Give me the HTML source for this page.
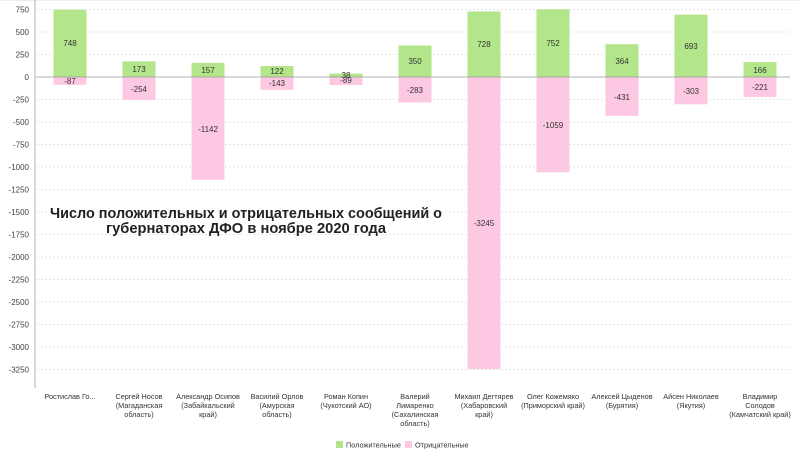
<!DOCTYPE html>
<html><head><meta charset="utf-8"><style>
html,body{margin:0;padding:0;background:#fff;}
svg{display:block;font-family:"Liberation Sans",sans-serif;}
</style></head><body>
<svg width="800" height="450" viewBox="0 0 800 450" xmlns="http://www.w3.org/2000/svg">
<rect width="800" height="450" fill="#fff"/>
<line x1="0" y1="0.5" x2="800" y2="0.5" stroke="#eee"/>
<g stroke="#ddd" stroke-dasharray="2,2" stroke-width="0.8">
<line x1="37" x2="790" y1="9.5" y2="9.5"/><line x1="37" x2="790" y1="32" y2="32"/><line x1="37" x2="790" y1="54.5" y2="54.5"/>
<line x1="37" x2="790" y1="99.5" y2="99.5"/><line x1="37" x2="790" y1="122" y2="122"/><line x1="37" x2="790" y1="144.5" y2="144.5"/>
<line x1="37" x2="790" y1="167" y2="167"/><line x1="37" x2="790" y1="189.5" y2="189.5"/><line x1="37" x2="790" y1="212" y2="212"/>
<line x1="37" x2="790" y1="234.5" y2="234.5"/><line x1="37" x2="790" y1="257" y2="257"/><line x1="37" x2="790" y1="279.5" y2="279.5"/>
<line x1="37" x2="790" y1="302" y2="302"/><line x1="37" x2="790" y1="324.5" y2="324.5"/><line x1="37" x2="790" y1="347" y2="347"/><line x1="37" x2="790" y1="369.5" y2="369.5"/>
</g>
<g font-size="8" fill="#444" text-anchor="end">
<text x="29" y="12.5">750</text><text x="29" y="35">500</text><text x="29" y="57.5">250</text><text x="29" y="80">0</text>
<text x="29" y="102.5">-250</text><text x="29" y="125">-500</text><text x="29" y="147.5">-750</text><text x="29" y="170">-1000</text>
<text x="29" y="192.5">-1250</text><text x="29" y="215">-1500</text><text x="29" y="237.5">-1750</text><text x="29" y="260">-2000</text>
<text x="29" y="282.5">-2250</text><text x="29" y="305">-2500</text><text x="29" y="327.5">-2750</text><text x="29" y="350">-3000</text><text x="29" y="372.5">-3250</text>
</g>
<line x1="35" y1="0" x2="35" y2="388" stroke="#ccc" stroke-width="1.5"/>
<g>
<!-- bars: center 70+69i, width 33, scale 0.09 -->
<rect x="53.5" y="9.7" width="33" height="67.3" fill="#b3e58a"/><rect x="53.5" y="77" width="33" height="7.8" fill="#fdc8e2"/>
<rect x="122.5" y="61.4" width="33" height="15.6" fill="#b3e58a"/><rect x="122.5" y="77" width="33" height="22.9" fill="#fdc8e2"/>
<rect x="191.5" y="62.9" width="33" height="14.1" fill="#b3e58a"/><rect x="191.5" y="77" width="33" height="102.8" fill="#fdc8e2"/>
<rect x="260.5" y="66" width="33" height="11" fill="#b3e58a"/><rect x="260.5" y="77" width="33" height="12.9" fill="#fdc8e2"/>
<rect x="329.5" y="73.6" width="33" height="3.4" fill="#b3e58a"/><rect x="329.5" y="77" width="33" height="8" fill="#fdc8e2"/>
<rect x="398.5" y="45.5" width="33" height="31.5" fill="#b3e58a"/><rect x="398.5" y="77" width="33" height="25.5" fill="#fdc8e2"/>
<rect x="467.5" y="11.5" width="33" height="65.5" fill="#b3e58a"/><rect x="467.5" y="77" width="33" height="292" fill="#fdc8e2"/>
<rect x="536.5" y="9.3" width="33" height="67.7" fill="#b3e58a"/><rect x="536.5" y="77" width="33" height="95.3" fill="#fdc8e2"/>
<rect x="605.5" y="44.2" width="33" height="32.8" fill="#b3e58a"/><rect x="605.5" y="77" width="33" height="38.8" fill="#fdc8e2"/>
<rect x="674.5" y="14.6" width="33" height="62.4" fill="#b3e58a"/><rect x="674.5" y="77" width="33" height="27.3" fill="#fdc8e2"/>
<rect x="743.5" y="62.1" width="33" height="14.9" fill="#b3e58a"/><rect x="743.5" y="77" width="33" height="19.9" fill="#fdc8e2"/>
</g>
<line x1="36" y1="77" x2="790" y2="77" stroke="#999" stroke-width="0.8"/>
<g font-size="8" fill="#333" text-anchor="middle">
<text x="70" y="46">748</text><text x="70" y="84">-87</text>
<text x="139" y="72">173</text><text x="139" y="92">-254</text>
<text x="208" y="73">157</text><text x="208" y="132">-1142</text>
<text x="277" y="74">122</text><text x="277" y="86">-143</text>
<text x="346" y="78">38</text><text x="346" y="83">-89</text>
<text x="415" y="64">350</text><text x="415" y="93">-283</text>
<text x="484" y="47">728</text><text x="484" y="226">-3245</text>
<text x="553" y="46">752</text><text x="553" y="128">-1059</text>
<text x="622" y="64">364</text><text x="622" y="100">-431</text>
<text x="691" y="49">693</text><text x="691" y="94">-303</text>
<text x="760" y="73">166</text><text x="760" y="90">-221</text>
</g>
<g font-size="7.3" fill="#333" text-anchor="middle">
<text x="70" y="399">Ростислав Го...</text>
<text x="139" y="399">Сергей Носов</text><text x="139" y="408">(Магаданская</text><text x="139" y="417">область)</text>
<text x="208" y="399">Александр Осипов</text><text x="208" y="408">(Забайкальский</text><text x="208" y="417">край)</text>
<text x="277" y="399">Василий Орлов</text><text x="277" y="408">(Амурская</text><text x="277" y="417">область)</text>
<text x="346" y="399">Роман Копин</text><text x="346" y="408">(Чукотский АО)</text>
<text x="415" y="399">Валерий</text><text x="415" y="408">Лимаренко</text><text x="415" y="417">(Сахалинская</text><text x="415" y="426">область)</text>
<text x="484" y="399">Михаил Дегтярев</text><text x="484" y="408">(Хабаровский</text><text x="484" y="417">край)</text>
<text x="553" y="399">Олег Кожемяко</text><text x="553" y="408">(Приморский край)</text>
<text x="622" y="399">Алексей Цыденов</text><text x="622" y="408">(Бурятия)</text>
<text x="691" y="399">Айсен Николаев</text><text x="691" y="408">(Якутия)</text>
<text x="760" y="399">Владимир</text><text x="760" y="408">Солодов</text><text x="760" y="417">(Камчатский край)</text>
</g>
<rect x="336" y="441" width="7" height="7" fill="#b3e58a"/>
<text x="346" y="447.5" font-size="7.3" fill="#333">Положительные</text>
<rect x="405" y="441" width="7" height="7" fill="#fdc8e2"/>
<text x="415" y="447.5" font-size="7.3" fill="#333">Отрицательные</text>
<g font-size="15" font-weight="bold" fill="#222" text-anchor="middle">
<text x="246" y="218" textLength="392" lengthAdjust="spacingAndGlyphs">Число положительных и отрицательных сообщений о</text>
<text x="246" y="233" textLength="280" lengthAdjust="spacingAndGlyphs">губернаторах ДФО в ноябре 2020 года</text>
</g>
</svg>
</body></html>
